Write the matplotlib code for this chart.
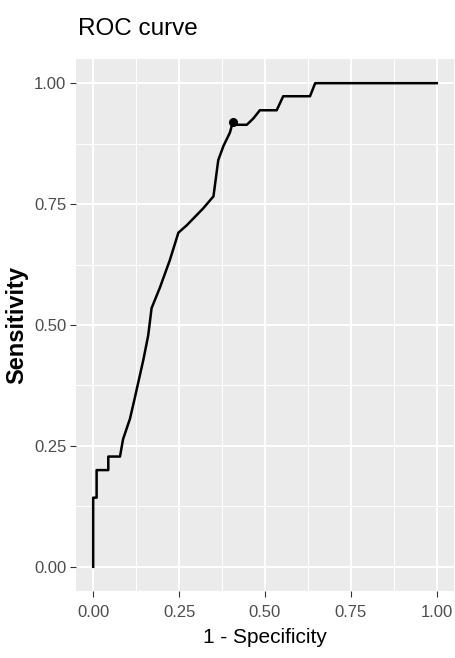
import matplotlib
matplotlib.use("Agg")
import matplotlib.pyplot as plt
import numpy as np

# ROC curve points
fpr = [0.0, 0.0, 0.010, 0.010, 0.044, 0.044, 0.078, 0.087, 0.107, 0.121, 0.146,
       0.160, 0.170, 0.194, 0.223, 0.248, 0.272, 0.320, 0.350, 0.364, 0.379,
       0.398, 0.406, 0.413, 0.447, 0.466, 0.485, 0.534, 0.553, 0.631, 0.646, 1.0]
tpr = [0.0, 0.143, 0.143, 0.200, 0.200, 0.228, 0.228, 0.264, 0.306, 0.349, 0.428,
       0.478, 0.535, 0.577, 0.634, 0.691, 0.706, 0.741, 0.766, 0.841, 0.870,
       0.898, 0.919, 0.914, 0.914, 0.927, 0.944, 0.944, 0.973, 0.973, 1.0, 1.0]
best_x = [0.406]
best_y = [0.919]
ticks = [0.0, 0.25, 0.5, 0.75, 1.0]
tick_labels = ["0.00", "0.25", "0.50", "0.75", "1.00"]

sans = ["Liberation Sans", "DejaVu Sans"]

fig = plt.figure(figsize=(4.56, 6.58), dpi=100)
ax = fig.add_axes([76 / 456, 67 / 658, 378 / 456, 532 / 658])
ax.set_facecolor("#EBEBEB")
for s in ax.spines.values():
    s.set_visible(False)

ax.plot(fpr, tpr, color="black", lw=1.8, zorder=3)
ax.plot(best_x, best_y, "o", color="black", ms=5.5, zorder=4)

ax.set_xlim(-0.05, 1.05)
ax.set_ylim(-0.05, 1.05)
ax.set_xticks(ticks)
ax.set_yticks(ticks)
ax.set_xticks([0.125, 0.375, 0.625, 0.875], minor=True)
ax.set_yticks([0.125, 0.375, 0.625, 0.875], minor=True)
ax.set_xticklabels(tick_labels, family=sans, fontsize=12, color="#4D4D4D")
ax.set_yticklabels(tick_labels, family=sans, fontsize=12, color="#4D4D4D")
ax.tick_params(which="major", length=4, width=0.8, color="#333333", pad=3)
ax.tick_params(axis="x", which="major", pad=6)
ax.tick_params(which="minor", length=0)
ax.grid(which="major", color="white", lw=1.4)
ax.grid(which="minor", color="white", lw=0.7)
ax.set_axisbelow(True)

ax.set_xlabel("1 - Specificity", family=sans, fontsize=15, labelpad=6)
ax.set_ylabel("Sensitivity", family=sans, fontweight="bold", fontsize=17,
              labelpad=4)
fig.text(78 / 456, 1 - 35 / 658, "ROC curve", family=sans, fontsize=17.5,
         ha="left", va="baseline")

fig.savefig("out.png", dpi=100)
